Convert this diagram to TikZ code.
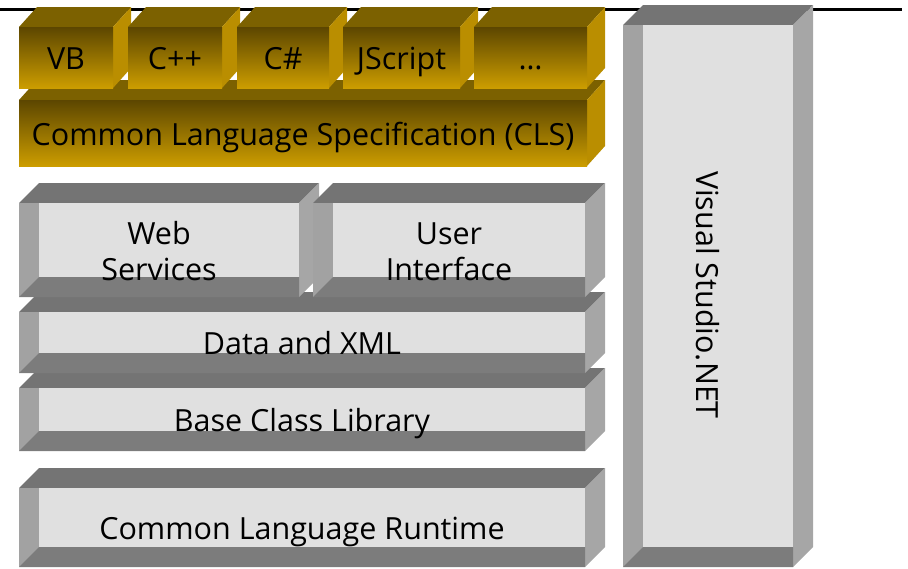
\documentclass[tikz,border=0pt]{standalone}
\usepackage{fontspec}
\setmainfont{Open Sans}
\usetikzlibrary{positioning}

\definecolor{facegray}{RGB}{224,224,224}
\definecolor{leftgray}{RGB}{162,162,162}
\definecolor{topgray}{RGB}{116,116,116}
\definecolor{bottomgray}{RGB}{124,124,124}
\definecolor{sidegray}{RGB}{166,166,166}
\definecolor{goldtop}{RGB}{124,97,0}
\definecolor{golddark}{RGB}{92,70,0}
\definecolor{goldlight}{RGB}{204,157,0}
\definecolor{goldside}{RGB}{186,142,0}

% front face from (#2,#3) to (#4,#5), y counts downward
\newcommand{\grayblock}[7][]{%
  \fill[topgray] (#2,#3) -- (#4,#3) -- (#4+20,#3-20) -- (#2+20,#3-20) -- cycle;
  \fill[sidegray] (#4,#3) -- (#4+20,#3-20) -- (#4+20,#5-20) -- (#4,#5) -- cycle;
  \fill[facegray] (#2,#3) rectangle (#4,#5);
  \fill[leftgray] (#2,#3) rectangle (#2+20,#5);
  \fill[bottomgray] (#2,#5) -- (#2+20,#5-20) -- (#4,#5-20) -- (#4,#5) -- cycle;
  \node[lbl,#1] (#6) at ({(#2+#4)/2},{(#3+#5)/2+12}) {#7};
}
\newcommand{\goldblock}[6]{%
  \fill[goldtop] (#1,#2) -- (#3,#2) -- (#3+18,#2-20) -- (#1+18,#2-20) -- cycle;
  \fill[goldside] (#3,#2) -- (#3+18,#2-20) -- (#3+18,#4-20) -- (#3,#4) -- cycle;
  \shade[top color=golddark, bottom color=goldlight] (#1,#2) rectangle (#3,#4);
  \node[lbl] (#5) at ({(#1+#3)/2},{(#2+#4)/2+12}) {#6};
}

\begin{document}
\begin{tikzpicture}[x=1pt,y=-1pt]
\tikzstyle{lbl}=[font=\fontsize{30.5}{36}\selectfont, text=black, align=center, inner sep=0pt, anchor=base]

\useasboundingbox (0,0) rectangle (908,568);

\draw[line width=3pt] (0,9) -- (902,9);

% stack, from the bottom up
\grayblock{19}{488}{585}{567}{clr}{Common Language Runtime}
\grayblock{19}{388}{585}{451}{bcl}{Base Class Library}
\grayblock{19}{312}{585}{373}{xml}{Data and XML}
\grayblock[yshift=-18pt]{19}{203}{299}{297}{web}{Web\\Services}
\grayblock[yshift=-18pt]{313}{203}{585}{297}{ui}{User\\Interface}

\goldblock{19}{100}{587}{166}{cls}{Common Language Specification (CLS)}
\foreach \xa/\xb/\n/\t in {19/113/vb/VB, 128/222/cpp/C++, 237/329/cs/C\#, 343/460/js/JScript, 474/587/etc/…}
  \goldblock{\xa}{27}{\xb}{88}{\n}{\t};

% side bar
\grayblock{623}{25}{793}{567}{vsbar}{}
\node[lbl, anchor=center, rotate=-90, xshift=-1pt] (vs) at ({(623+793)/2},{(25+567)/2}) {Visual Studio.NET};

\end{tikzpicture}
\end{document}
